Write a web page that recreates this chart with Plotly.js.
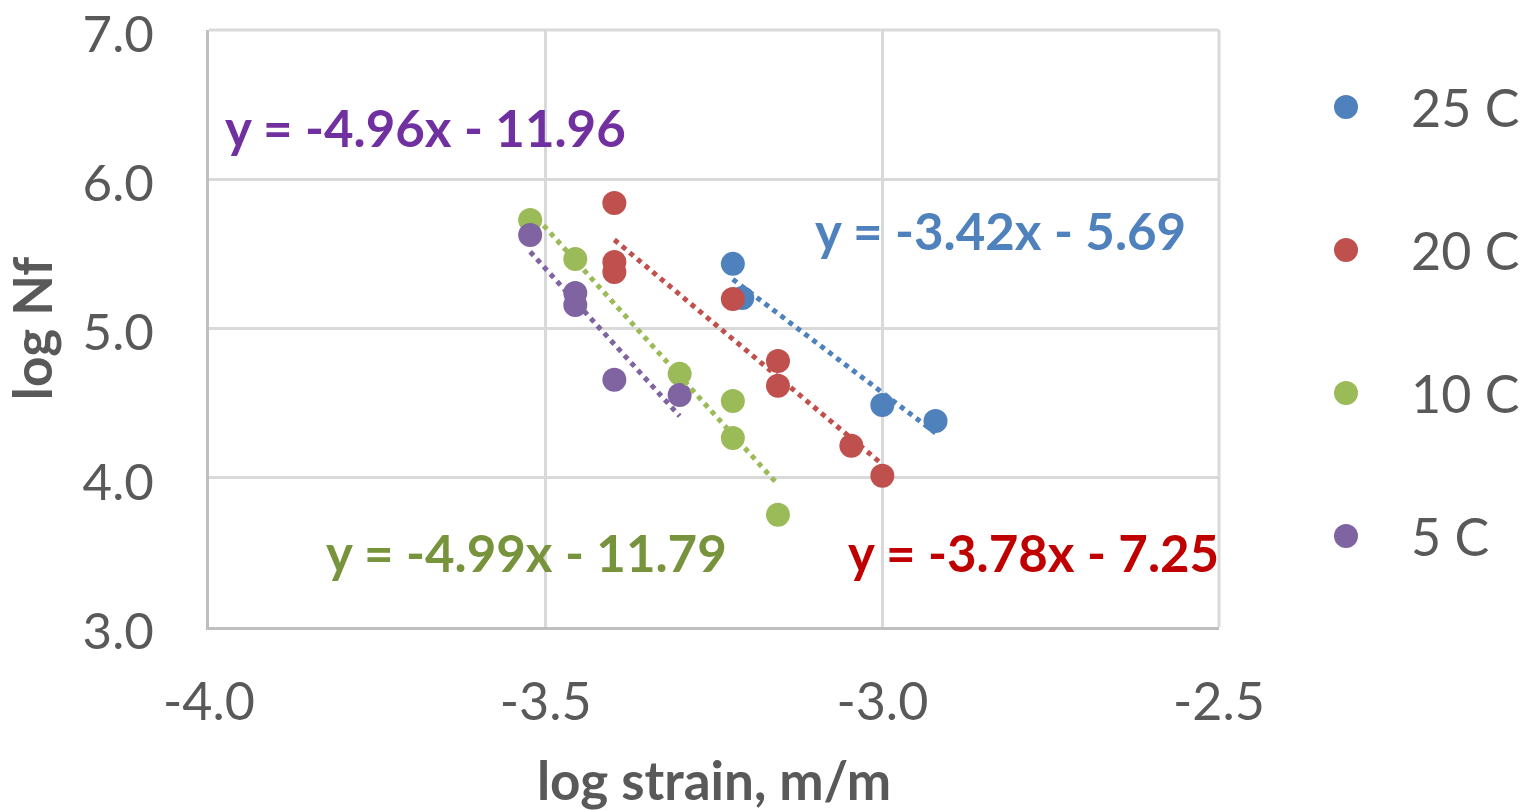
<!DOCTYPE html>
<html>
<head>
<meta charset="utf-8">
<script src="https://cdn.plot.ly/plotly-3.0.1.min.js"></script>
<style>html,body{margin:0;padding:0;background:#fff;}#chart{width:1527px;height:811px;}</style>
</head>
<body>
<div id="chart"></div>
<script>
// ---- data ----
const seriesNames = ["25 C", "20 C", "10 C", "5 C"];
const markerColors = ["#4F81BD", "#C0504D", "#9BBB59", "#8064A2"];
const eqColors = ["#4F81BD", "#C00000", "#77933C", "#7030A0"];

const x25 = [-3.222, -3.208, -3.000, -2.921];
const y25 = [5.433, 5.205, 4.488, 4.381];

const x20 = [-3.398, -3.398, -3.398, -3.222, -3.155, -3.155, -3.046, -3.000];
const y20 = [5.841, 5.446, 5.379, 5.198, 4.783, 4.616, 4.214, 4.013];

const x10 = [-3.523, -3.456, -3.301, -3.222, -3.222, -3.155];
const y10 = [5.727, 5.466, 4.696, 4.515, 4.267, 3.752];

const x5 = [-3.523, -3.456, -3.456, -3.398, -3.301];
const y5 = [5.627, 5.238, 5.158, 4.656, 4.555];

// linear trendline coefficients (y = slope*x + intercept)
const slopes = [-3.42, -3.78, -4.99, -4.96];
const intercepts = [-5.69, -7.25, -11.79, -11.96];
const eqLabels = ["y = -3.42x - 5.69", "y = -3.78x - 7.25", "y = -4.99x - 11.79", "y = -4.96x - 11.96"];
const eqPosX = [-2.825, -2.776, -3.529, -3.678];
const eqPosY = [5.66, 3.50, 3.50, 6.344];

const xTickVals = [-4.0, -3.5, -3.0, -2.5];
const xTickText = ["-4.0", "-3.5", "-3.0", "-2.5"];
const yTickVals = [3, 4, 5, 6, 7];
const yTickText = ["3.0", "4.0", "5.0", "6.0", "7.0"];

// ---- build ----
const xs = [x25, x20, x10, x5];
const ys = [y25, y20, y10, y5];
const FONT = "Lato, 'Open Sans', sans-serif";
const GREY = "#595959";

const traces = [];
// markers
for (let i = 0; i < 4; i++) {
  traces.push({
    type: "scatter", mode: "markers", name: seriesNames[i],
    x: xs[i], y: ys[i], xaxis: "x", yaxis: "y",
    marker: {color: markerColors[i], size: 24},
    showlegend: false, hoverinfo: "x+y"
  });
}
// trendlines over data range
for (let i = 0; i < 4; i++) {
  const lo = Math.min(...xs[i]), hi = Math.max(...xs[i]);
  traces.push({
    type: "scatter", mode: "lines",
    x: [lo, hi], y: [slopes[i] * lo + intercepts[i], slopes[i] * hi + intercepts[i]],
    xaxis: "x", yaxis: "y",
    line: {color: markerColors[i], width: 5, dash: "dot"},
    showlegend: false, hoverinfo: "skip"
  });
}
// custom legend markers
for (let i = 0; i < 4; i++) {
  traces.push({
    type: "scatter", mode: "markers",
    x: [0], y: [seriesNames[i]], xaxis: "x2", yaxis: "y2",
    marker: {color: markerColors[i], size: 24},
    showlegend: false, hoverinfo: "skip"
  });
}

const annotations = [];
for (let i = 0; i < 4; i++) {
  annotations.push({
    x: eqPosX[i], y: eqPosY[i], xref: "x", yref: "y",
    text: eqLabels[i], showarrow: false, xanchor: "center", yanchor: "middle",
    font: {family: FONT, size: 51, color: eqColors[i], weight: 700}
  });
  annotations.push({
    x: 0, y: seriesNames[i], xref: "x2", yref: "y2",
    text: seriesNames[i], showarrow: false, xanchor: "left", yanchor: "middle",
    xshift: 63,
    font: {family: FONT, size: 52, color: GREY}
  });
}

const W = 1527, H = 811;
const ml = 209, mt = 30, mb = 184;
const pw = W - ml;
const layout = {
  width: W, height: H,
  margin: {l: ml, r: 0, t: mt, b: mb, pad: 0},
  paper_bgcolor: "#ffffff", plot_bgcolor: "#ffffff",
  showlegend: false,
  font: {family: FONT, color: GREY},
  xaxis: {
    domain: [0, 1010 / pw],
    range: [-4.0, -2.5], tickvals: xTickVals, ticktext: xTickText,
    showgrid: true, gridcolor: "#D9D9D9", gridwidth: 3,
    showline: true, linecolor: "#BFBFBF", linewidth: 3,
    zeroline: false, ticks: "", ticklabelstandoff: 28, ticklabeloverflow: "allow",
    tickfont: {family: FONT, size: 52, color: GREY},
    title: {text: "log strain, m/m", standoff: 42, font: {family: FONT, size: 53, color: GREY, weight: 700}},
    automargin: false, fixedrange: true, layer: "below traces"
  },
  yaxis: {
    domain: [0, 1],
    range: [3, 7], tickvals: yTickVals, ticktext: yTickText,
    showgrid: true, gridcolor: "#D9D9D9", gridwidth: 3,
    showline: true, linecolor: "#BFBFBF", linewidth: 3,
    zeroline: false, ticks: "", ticklabelstandoff: 42, ticklabeloverflow: "allow",
    ticklabelshift: 4,
    tickfont: {family: FONT, size: 51, color: GREY},
    title: {text: "log Nf", standoff: 24, font: {family: FONT, size: 53, color: GREY, weight: 700}},
    automargin: false, fixedrange: true, layer: "below traces"
  },
  xaxis2: {
    domain: [(1300 - ml) / pw, (1392 - ml) / pw], range: [-1, 1],
    visible: false, fixedrange: true, anchor: "y2"
  },
  yaxis2: {
    domain: [0, 1], range: [3.636, -0.538], type: "category",
    categoryarray: seriesNames, visible: false, fixedrange: true, anchor: "x2"
  },
  shapes: [
    {type: "line", xref: "x domain", yref: "y domain", x0: 0, x1: 1, y0: 1, y1: 1,
     line: {color: "#D9D9D9", width: 3}, layer: "below"},
    {type: "line", xref: "x domain", yref: "y domain", x0: 1, x1: 1, y0: 0, y1: 1,
     line: {color: "#D9D9D9", width: 3}, layer: "below"}
  ],
  annotations: annotations
};

Plotly.newPlot("chart", traces, layout, {displayModeBar: false, staticPlot: true});
</script>
</body>
</html>
